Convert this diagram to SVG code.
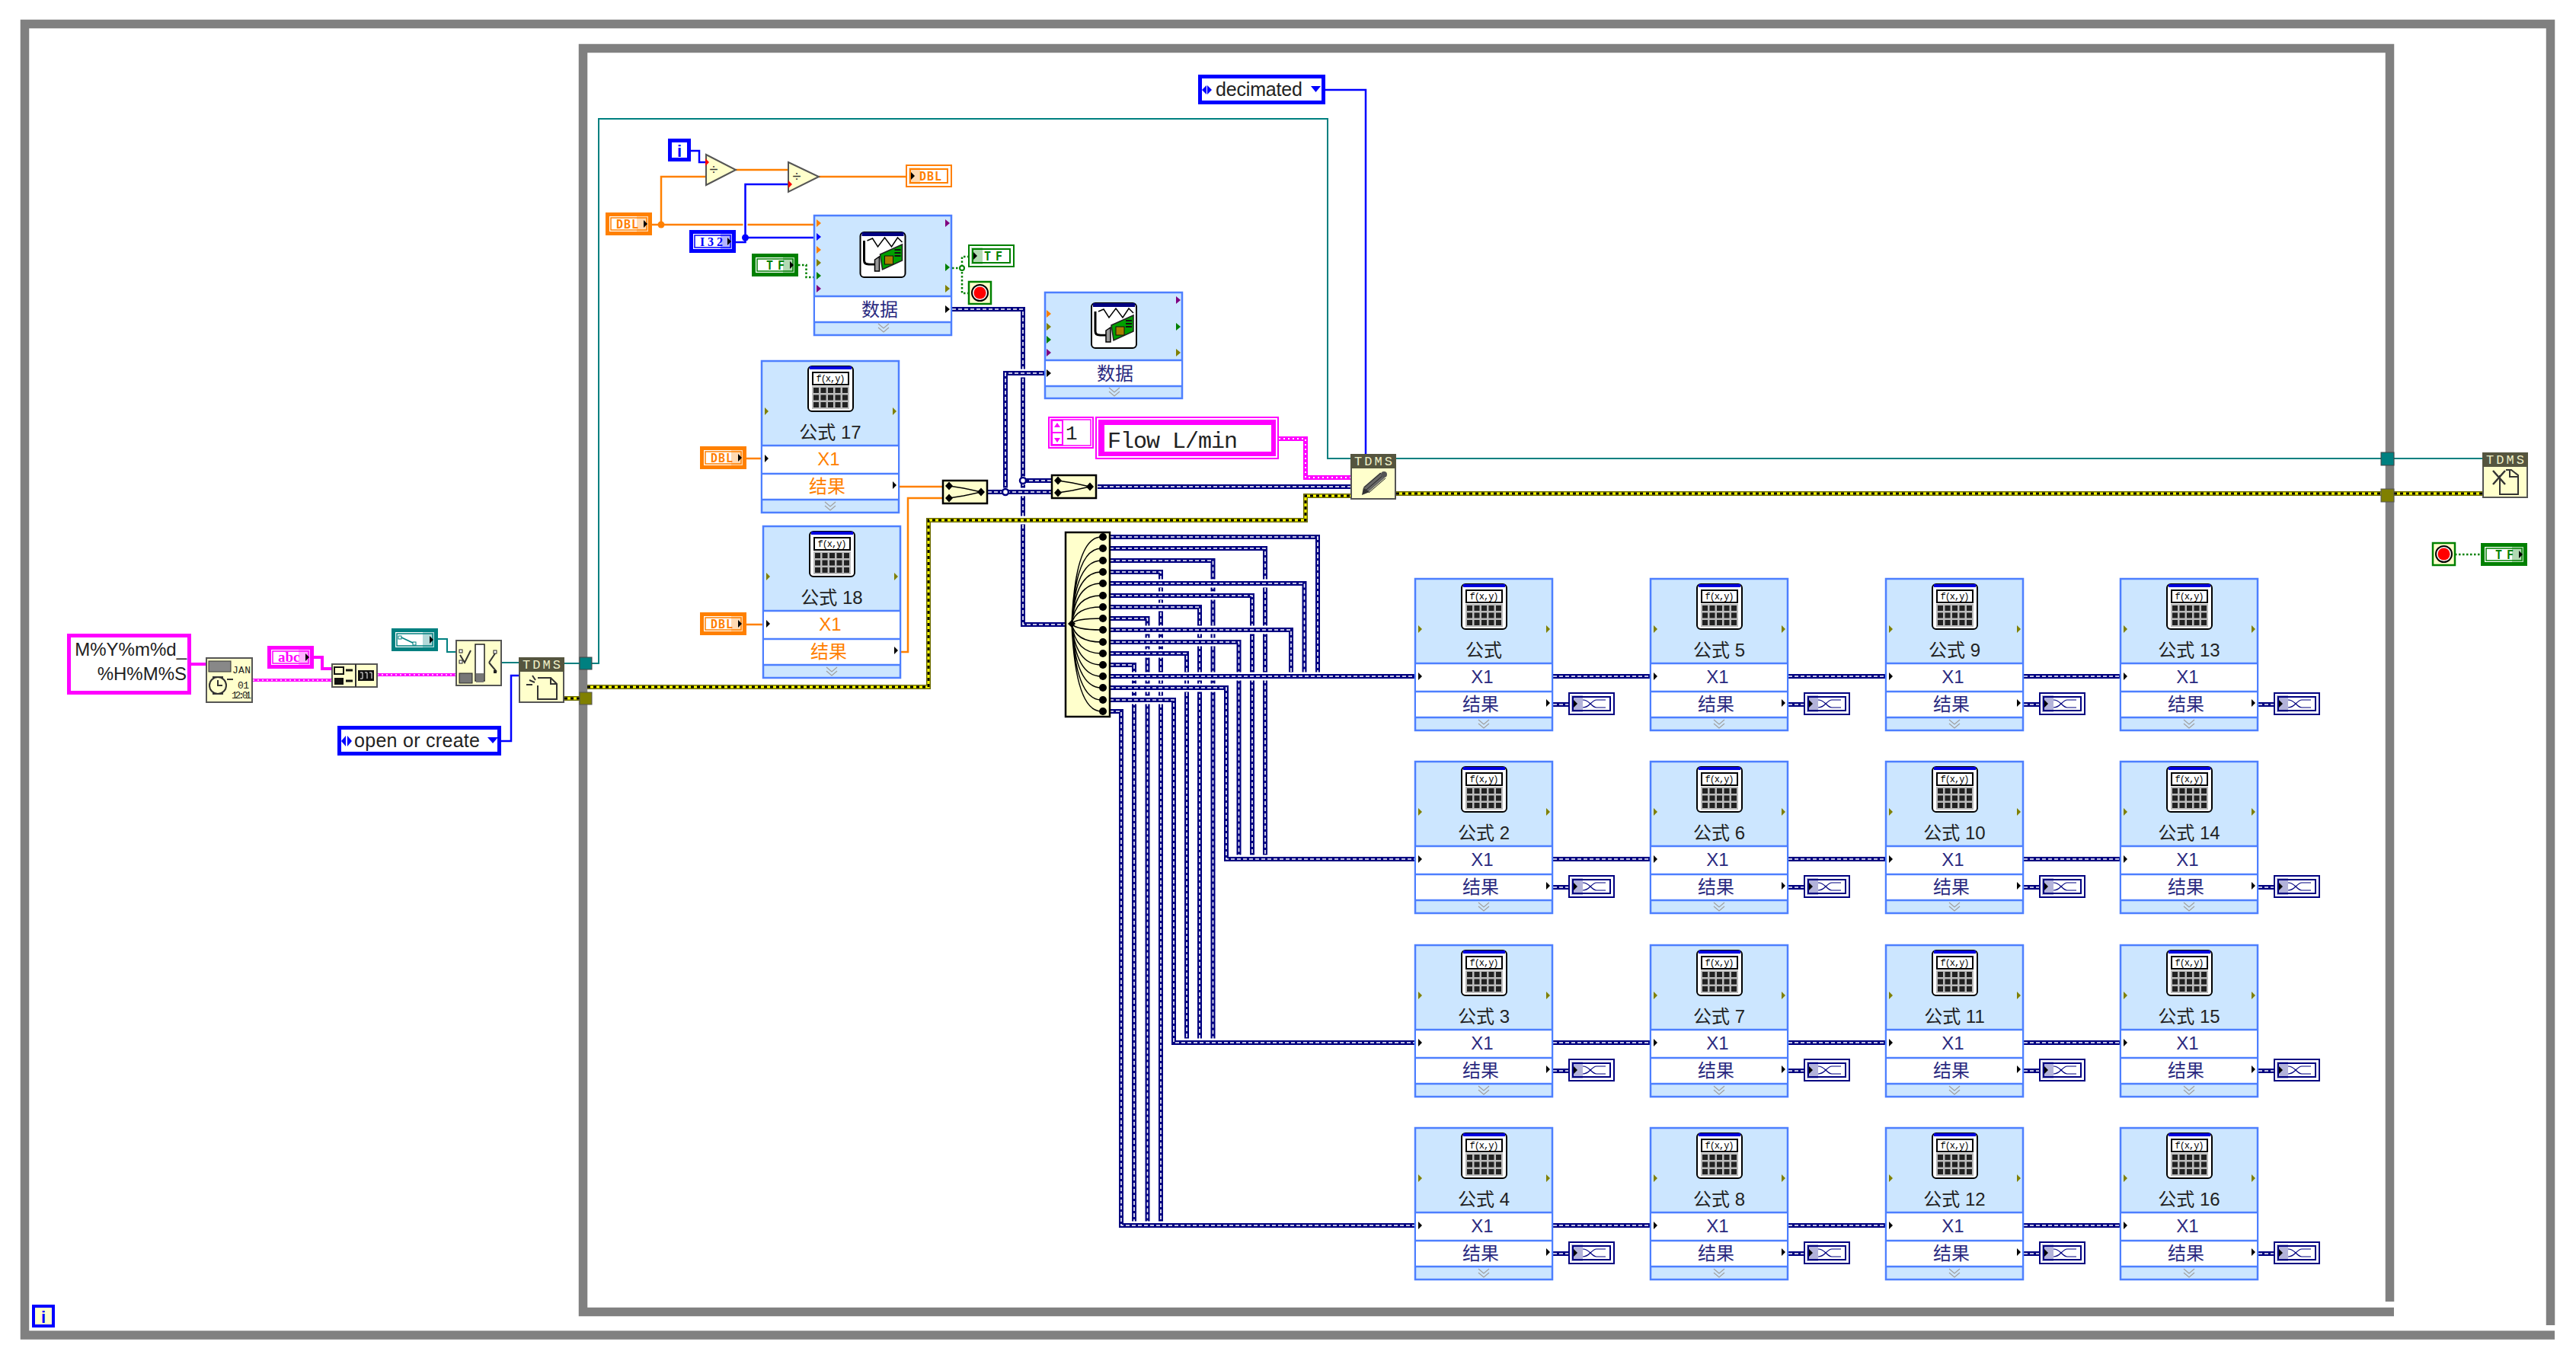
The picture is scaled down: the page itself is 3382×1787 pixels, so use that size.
<svg xmlns="http://www.w3.org/2000/svg" width="3382" height="1787" viewBox="0 0 3382 1787">
<style>
text{font-family:"Liberation Sans","Noto Sans CJK SC",sans-serif}
.fr{fill:none;stroke:#808080;stroke-width:11.5}
.n{fill:none;stroke:#000080;stroke-width:6}
.d{fill:none;stroke:#fff;stroke-width:1.6;stroke-dasharray:5 3}
.h{fill:none;stroke:#fff;stroke-width:11}
.o{fill:none;stroke:#ff8000;stroke-width:2.5}
.b{fill:none;stroke:#0000ff;stroke-width:2.5}
.t{fill:none;stroke:#008080;stroke-width:2}
.y1{fill:none;stroke:#6b6b00;stroke-width:6}
.y2{fill:none;stroke:#ff0;stroke-width:3}
.y3{fill:none;stroke:#000;stroke-width:3;stroke-dasharray:4 4}
.p1{fill:none;stroke:#ff00ff;stroke-width:4}
.p2{fill:none;stroke:#fff;stroke-width:1.5;stroke-dasharray:2 4}
.g{fill:none;stroke:#008000;stroke-width:2.5;stroke-dasharray:2.5 2.5}
.nd{fill:#ffffcc;stroke:#555;stroke-width:2}
.bk{fill:#ffffcc;stroke:#000;stroke-width:2.5}
.hd{fill:#55553f}
.hdt{fill:#f0f0c8;font-family:"Liberation Mono",monospace;font-size:17px}
.lab{font-size:24px;fill:#222;text-anchor:middle}
.x1{font-size:24px;fill:#2a2a80;text-anchor:middle}
.or{font-size:24px;fill:#ff8000;text-anchor:middle}
.fx{font-family:"Liberation Mono",monospace;font-size:12px;fill:#000;text-anchor:middle}
.ct{font-family:"DejaVu Sans Mono",monospace;font-weight:bold;font-size:15px}
.en{font-size:25px;fill:#222}
.dv{font-size:20px;fill:#333;text-anchor:middle}
.sm{font-family:"Liberation Mono",monospace;font-size:13px;fill:#222}
.ic{fill:none;stroke:#333;stroke-width:2}
</style>
<defs>
<g id="calc">
<rect x="1" y="1" width="59" height="59" rx="5" fill="#fff" stroke="#000" stroke-width="2"/>
<rect x="3" y="1" width="55" height="4" fill="#0000e0"/>
<rect x="7" y="9" width="47" height="16" fill="#fff" stroke="#000" stroke-width="2"/>
<text class="fx" x="30.5" y="21" textLength="38">f(x,y)</text>
<rect x="6" y="27" width="49" height="30" fill="#bbb"/>
<g fill="#222"><rect x="8" y="29" width="7" height="7"/><rect x="17.500" y="29" width="7" height="7"/><rect x="27" y="29" width="7" height="7"/><rect x="36.500" y="29" width="7" height="7"/><rect x="46" y="29" width="7" height="7"/><rect x="8" y="38.500" width="7" height="7"/><rect x="17.500" y="38.500" width="7" height="7"/><rect x="27" y="38.500" width="7" height="7"/><rect x="36.500" y="38.500" width="7" height="7"/><rect x="46" y="38.500" width="7" height="7"/><rect x="8" y="48" width="7" height="7"/><rect x="17.500" y="48" width="7" height="7"/><rect x="27" y="48" width="7" height="7"/><rect x="36.500" y="48" width="7" height="7"/><rect x="46" y="48" width="7" height="7"/></g>
</g>
<g id="daq">
<rect x="1" y="1" width="59" height="59" rx="5" fill="#fff" stroke="#000" stroke-width="2"/>
<rect x="3" y="1" width="55" height="5" fill="#000080"/>
<path d="M10 12L17 9L24 20L33 8L42 20L50 8L56 14" fill="none" stroke="#000" stroke-width="1.5"/>
<path d="M6 12V38Q6 43 12 43H20" fill="none" stroke="#000" stroke-width="3"/>
<path d="M9 12V36Q9 41 14 41H20" fill="none" stroke="#fff" stroke-width="1"/>
<path d="M20 37L26 33V52H20Z" fill="#999" stroke="#000" stroke-width="1.500"/>
<path d="M27 30L56 17V38L30 50Z" fill="#00a000" stroke="#222" stroke-width="1.500"/>
<rect x="33" y="32" width="11" height="11" fill="#a88000" stroke="#111"/>
<path d="M46 24h8M46 28h8M46 32h8" stroke="#111" stroke-width="2"/>
</g>
<g id="fn">
<rect x="1" y="1" width="180" height="199" fill="#cce6ff" stroke="#4d7fff" stroke-width="2.500"/>
<rect x="2" y="112" width="178" height="71" fill="#fff"/>
<path d="M1 112H181M1 149H181M1 183H181" stroke="#4d7fff" stroke-width="2.500"/>
<use href="#calc" x="61" y="7"/>
<polygon points="5,62 10,67 5,72" fill="#808000"/><polygon points="173,62 178,67 173,72" fill="#808000"/>
<polygon points="5,124 10,129 5,134" fill="#000"/><polygon points="173,159 178,164 173,169" fill="#000"/>
<path d="M84 186L91 192L98 186M84 191L91 197L98 191" fill="none" stroke="#a0a0a0" stroke-width="1.200"/>
</g>
<g id="ctl"><rect width="61" height="30" fill="currentColor"/><rect x="5" y="5" width="51" height="20" fill="#fff"/><rect x="7" y="7" width="47" height="16" fill="none" stroke="currentColor" stroke-width="1.500"/><rect x="41" y="4" width="15" height="22" fill="currentColor" opacity=".3"/><polygon points="50,10 55,15 50,20" fill="#000"/></g>
<g id="ind"><rect x="1" y="1" width="59" height="28" fill="#fff" stroke="currentColor" stroke-width="2"/><rect x="6" y="6" width="49" height="18" fill="none" stroke="currentColor" stroke-width="2"/><rect x="4" y="4" width="15" height="22" fill="currentColor" opacity=".3"/><polygon points="7,10 12,15 7,20" fill="#000"/></g>
<g id="wf"><use href="#ind" style="color:#000080"/><path d="M19 10Q24 10 29 15T37 20M19 20Q24 20 29 15T37 10H49M37 20H49" fill="none" stroke="#000080" stroke-width="1.200"/></g>
<g id="stp"><rect x="1" y="1" width="29" height="29" fill="#ffffcc" stroke="#008000" stroke-width="2.500"/><circle cx="15.500" cy="15.500" r="10.500" fill="#fff" stroke="#000" stroke-width="2"/><circle cx="15.500" cy="15.500" r="8" fill="#ff0000"/></g>
<g id="merge"><rect x="1" y="1" width="58" height="30" class="bk"/><path d="M9 8L28 11L51 16L28 21L9 24" fill="none" stroke="#000" stroke-width="1.500"/><path d="M9 2.500L14 8L9 13.500L4 8ZM9 18.500L14 24L9 29.500L4 24ZM51 10.500L56 16L51 21.500L46 16Z" fill="#000"/></g>
<g id="tdms"><rect x="1" y="1" width="58" height="58" class="nd"/><rect width="60" height="19" class="hd"/><text class="hdt" x="5" y="15" textLength="50">TDMS</text></g>
<path id="o0" d="M1457 705H1730V888"/>
<path id="o1" d="M1457 720H1661V1128"/>
<path id="o2" d="M1457 736H1592.500V1369"/>
<path id="o3" d="M1457 751H1524V1609"/>
<path id="o4" d="M1457 766H1712.500V888"/>
<path id="o5" d="M1457 782H1644V1128"/>
<path id="o6" d="M1457 797H1575V1369"/>
<path id="o7" d="M1457 812H1506.500V1609"/>
<path id="o8" d="M1457 827H1695V888"/>
<path id="o9" d="M1457 843H1626.500V1128"/>
<path id="o10" d="M1457 858H1558V1369"/>
<path id="o11" d="M1457 873H1489V1609"/>
<path id="o12" d="M1457 888H1857"/>
<path id="o13" d="M1457 903H1610V1128H1857"/>
<path id="o14" d="M1457 919H1541V1369H1857"/>
<path id="o15" d="M1457 934H1472V1609H1857"/>
<path id="m1" d="M1250 406H1343V820H1398"/>
<path id="m2" d="M1320 646V490H1371"/>
<path id="m3" d="M1297 646H1380"/>
<path id="m4" d="M1343 631H1380"/>
<path id="m5" d="M1441 639H1773"/>
<path id="rw" d="M2039 888H2166M2348 888H2475M2657 888H2783M2039 1128H2166M2348 1128H2475M2657 1128H2783M2039 1369H2166M2348 1369H2475M2657 1369H2783M2039 1609H2166M2348 1609H2475M2657 1609H2783M2039 925H2059M2348 925H2368M2657 925H2677M2965 925H2985M2039 1165H2059M2348 1165H2368M2657 1165H2677M2965 1165H2985M2039 1406H2059M2348 1406H2368M2657 1406H2677M2965 1406H2985M2039 1646H2059M2348 1646H2368M2657 1646H2677M2965 1646H2985"/>
<path id="yw" d="M771 902H1219V683H1714V651H1773M741 917H761M1833 648H3126M3143 648H3259"/>
</defs>

<rect width="3382" height="1787" fill="#fff"/>
<g id="frames">
<path class="fr" d="M3348.500 1740V31.500H32.500V1753H3354"/>
<path class="fr" d="M3137.500 1709V63.500H765.500V1722.500H3143"/>
</g>

<g id="connectors">
<path class="o" d="M856 295H1068M868 295V232H926M966 223H1035M1075 232H1189M979 602H999M979 820H1001M1181 639H1237M1183 856H1192V654H1237"/>
<path class="h" style="stroke-width:6" d="M978.500 280V310"/>
<path class="b" d="M907 198H918V213H926M966 318H978.500V242H1035M978.500 312H1068M658 973H671V887H681M1740 118H1793V596"/>
<path class="g" d="M1048 348H1058.500V364H1068M1250 352H1263V337H1271M1263 352V385H1271M3223 728H3257"/>
<path class="t" d="M741 871H761M777 871H786V156H1743V602H1773M1833 602H3126M3143 602H3259M659 870H681"/>
<path class="t" d="M575 839H587V856H598"/>
<path class="p1" d="M251 872H270M332 893H435M411 863H423V878H435M495 886H598"/>
<path class="p2" d="M332 893H435M495 886H598"/>
<path class="p1" style="stroke-width:6" d="M1679 576H1714V627H1773"/>
<path class="p2" style="stroke-width:2" d="M1679 576H1714V627H1773"/>
<use href="#m1" class="n"/><use href="#m1" class="d"/>
<use href="#m2" class="h"/><use href="#m2" class="n"/><use href="#m2" class="d"/>
<use href="#m3" class="h"/><use href="#m3" class="n"/><use href="#m3" class="d"/>
<use href="#m4" class="h"/><use href="#m4" class="n"/><use href="#m4" class="d"/>
<use href="#m5" class="n"/><use href="#m5" class="d"/>
<path class="h" d="M1200 683H1714"/>
<use href="#yw" class="y1"/><use href="#yw" class="y2"/><use href="#yw" class="y3"/>
<use href="#o0" class="h"/><use href="#o0" class="n"/><use href="#o0" class="d"/>
<use href="#o1" class="h"/><use href="#o1" class="n"/><use href="#o1" class="d"/>
<use href="#o2" class="h"/><use href="#o2" class="n"/><use href="#o2" class="d"/>
<use href="#o3" class="h"/><use href="#o3" class="n"/><use href="#o3" class="d"/>
<use href="#o4" class="h"/><use href="#o4" class="n"/><use href="#o4" class="d"/>
<use href="#o5" class="h"/><use href="#o5" class="n"/><use href="#o5" class="d"/>
<use href="#o6" class="h"/><use href="#o6" class="n"/><use href="#o6" class="d"/>
<use href="#o7" class="h"/><use href="#o7" class="n"/><use href="#o7" class="d"/>
<use href="#o8" class="h"/><use href="#o8" class="n"/><use href="#o8" class="d"/>
<use href="#o9" class="h"/><use href="#o9" class="n"/><use href="#o9" class="d"/>
<use href="#o10" class="h"/><use href="#o10" class="n"/><use href="#o10" class="d"/>
<use href="#o11" class="h"/><use href="#o11" class="n"/><use href="#o11" class="d"/>
<use href="#o12" class="h"/><use href="#o12" class="n"/><use href="#o12" class="d"/>
<use href="#o13" class="h"/><use href="#o13" class="n"/><use href="#o13" class="d"/>
<use href="#o14" class="h"/><use href="#o14" class="n"/><use href="#o14" class="d"/>
<use href="#o15" class="h"/><use href="#o15" class="n"/><use href="#o15" class="d"/>
<use href="#rw" class="n"/><use href="#rw" class="d"/>
<circle cx="868" cy="295" r="4.500" fill="#ff8000"/>
<circle cx="978.500" cy="312" r="4.500" fill="#0000ff"/>
<circle cx="1263" cy="352" r="3" fill="#fff" stroke="#008000" stroke-width="2"/>
<circle cx="1320" cy="646" r="4" fill="#fff" stroke="#000080" stroke-width="2.500"/>
<circle cx="1343" cy="631" r="4" fill="#fff" stroke="#000080" stroke-width="2.500"/>
</g>

<g id="format-string"><rect x="90.500" y="834.500" width="158" height="75" fill="#fff" stroke="#ff00ff" stroke-width="5"/><text x="245" y="861" text-anchor="end" font-size="24" fill="#222">M%Y%m%d_</text><text x="245" y="893" text-anchor="end" font-size="24" fill="#222">%H%M%S</text></g>
<g id="format-date" transform="translate(270,863)"><rect x="1" y="1" width="60" height="58" class="nd"/><rect x="4" y="5" width="29" height="14" fill="#888" stroke="#333"/><text class="sm" x="35" y="21" textLength="24">JAN</text><text class="sm" x="42" y="41" textLength="15">01</text><text class="sm" x="34" y="54" textLength="26">12:01</text><circle cx="16" cy="37" r="11" fill="none" stroke="#333" stroke-width="2"/><path d="M16 30V37H22M9 26H23M9 48H23M28 29H36" class="ic"/></g>
<g id="abc" transform="translate(351,848)"><use href="#ctl" style="color:#ff00ff"/><text x="14" y="21" font-size="19" font-weight="bold" fill="#ff00ff" style="font-family:'Liberation Serif',serif">abc</text></g>
<g id="concat" transform="translate(435,871)"><rect x="1" y="1" width="59" height="30" class="nd"/><path d="M32 1V31" stroke="#333" stroke-width="2"/><rect x="35" y="9" width="21" height="14" fill="#111"/><path d="M38 12h3v8h-3M44 12h3v8M50 12h3v8" fill="none" stroke="#fff"/><rect x="4" y="5" width="12" height="9" fill="none" stroke="#111" stroke-width="2"/><rect x="4" y="19" width="12" height="9" fill="#111"/><path d="M19 9H28M19 23H28" stroke="#111" stroke-width="3"/></g>
<g id="path-const" transform="translate(514,825)"><use href="#ctl" style="color:#008080"/><path d="M11 11L30 20" stroke="#008080" stroke-width="1.500"/><rect x="9" y="10" width="4" height="4" fill="#fff" stroke="#008080"/><rect x="28" y="18" width="4" height="4" fill="#fff" stroke="#008080"/></g>
<g id="build-path" transform="translate(598,840)"><rect x="1" y="1" width="59" height="59" class="nd"/><rect x="26" y="6" width="12" height="48" fill="#fff" stroke="#222" stroke-width="1.500"/><rect x="5" y="44" width="17" height="13" fill="#777" stroke="#222"/><rect x="27" y="44" width="10" height="12" fill="#777"/><path d="M6 20L12 30L20 14M44 30L52 18M44 30L54 42" class="ic"/><rect x="5" y="13" width="4" height="4" fill="#fff" stroke="#222"/><rect x="5" y="27" width="4" height="4" fill="#fff" stroke="#222"/><rect x="50" y="14" width="4" height="4" fill="#fff" stroke="#222"/><rect x="50" y="40" width="4" height="4" fill="#222"/></g>
<g id="tdms-open" transform="translate(681,863)"><use href="#tdms"/><path d="M25 27H42L50 35V55H25V37" class="ic"/><path d="M42 27V35H50" class="ic"/><path d="M14 30L21 33M18 24L22 30M10 36L18 36" class="ic"/></g>
<g id="enum-open"><rect x="445.500" y="955.500" width="210" height="34" fill="#fff" stroke="#0000ff" stroke-width="5"/><polygon points="448,973 454,966 454,980" fill="#0000ff"/><polygon points="462,973 456,966 456,980" fill="#0000ff"/><polygon points="640,968 654,968 647,976" fill="#0000ff"/><text class="en" x="465" y="981" textLength="165">open or create</text></g>
<rect id="tunnel-a" x="761" y="863" width="16" height="16" fill="#008080" stroke="#444"/>
<rect id="tunnel-b" x="761" y="909" width="16" height="16" fill="#808000" stroke="#555"/>

<g id="loop-i" transform="translate(877,182)"><rect x="2.500" y="2.500" width="25" height="25" fill="#fff" stroke="#0000ff" stroke-width="5"/><text x="15" y="24" text-anchor="middle" font-size="22" font-weight="bold" fill="#0000ff">i</text></g>
<g id="div1"><polygon points="927,203 966,223 927,243" class="nd"/><text class="dv" x="937" y="229">÷</text><polygon points="926,208 931,213 926,218" fill="#ff0000"/></g>
<g id="div2"><polygon points="1035,213 1075,232 1035,252" class="nd"/><text class="dv" x="1046" y="238">÷</text><polygon points="1035,237 1040,242 1035,247" fill="#ff0000"/></g>
<g id="dbl-out" transform="translate(1189,216)"><use href="#ind" style="color:#ff8000"/><text class="ct" x="18" y="21" fill="#ff8000" textLength="29">DBL</text></g>
<g id="dbl-in" transform="translate(795,279)"><use href="#ctl" style="color:#ff8000"/><text class="ct" x="14" y="21" fill="#ff8000" textLength="29">DBL</text></g>
<g id="i32" transform="translate(905,302)"><use href="#ctl" style="color:#0000ff"/><text x="14" y="21" font-size="16" font-weight="bold" fill="#0000ff" textLength="30" style="font-family:'Liberation Serif',serif">I32</text></g>
<g id="tf-in" transform="translate(987,333)"><use href="#ctl" style="color:#008000"/><text class="ct" x="19" y="21" fill="#008000" textLength="24">TF</text></g>
<g id="tf-out" transform="translate(1271,321)"><use href="#ind" style="color:#008000"/><text class="ct" x="21" y="21" fill="#008000" textLength="24">TF</text></g>
<use id="stop-a" href="#stp" x="1271" y="369"/>
<g id="daq1" transform="translate(1068,282)"><rect x="1" y="1" width="180" height="157" fill="#cce6ff" stroke="#4d7fff" stroke-width="2.500"/><rect x="2" y="107" width="178" height="34" fill="#fff"/><path d="M1 107H181M1 141H181" stroke="#4d7fff" stroke-width="2.500"/><use href="#daq" x="60.500" y="22"/>
<polygon points="4,6 10,11 4,16" fill="#ff8000"/><polygon points="4,24 10,29 4,34" fill="#0000ff"/><polygon points="4,41 10,46 4,51" fill="#ff8000"/><polygon points="4,58 10,63 4,68" fill="#808000"/><polygon points="4,75 10,80 4,85" fill="#008000"/><polygon points="4,92 10,97 4,102" fill="#800080"/>
<polygon points="173,6 179,11 173,16" fill="#800080"/><polygon points="173,64 179,69 173,74" fill="#008000"/><polygon points="173,92 179,97 173,102" fill="#808000"/><polygon points="173,119 179,124 173,129" fill="#000"/>
<path d="M85 143L92 149L99 143M85 148L92 154L99 148" fill="none" stroke="#a0a0a0" stroke-width="1.200"/><text class="x1" x="87" y="133">数据</text></g>
<g id="daq2" transform="translate(1371,383)"><rect x="1" y="1" width="180" height="139" fill="#cce6ff" stroke="#4d7fff" stroke-width="2.500"/><rect x="2" y="90" width="178" height="34" fill="#fff"/><path d="M1 90H181M1 124H181" stroke="#4d7fff" stroke-width="2.500"/><use href="#daq" x="61" y="14"/>
<polygon points="3,24 9,29 3,34" fill="#ff8000"/><polygon points="3,41 9,46 3,51" fill="#808000"/><polygon points="3,58 9,63 3,68" fill="#008000"/><polygon points="3,75 9,80 3,85" fill="#800080"/>
<polygon points="173,6 179,11 173,16" fill="#800080"/><polygon points="173,41 179,46 173,51" fill="#008000"/><polygon points="173,75 179,80 173,85" fill="#808000"/><polygon points="3,102 9,107 3,112" fill="#000"/>
<path d="M85 126L92 132L99 126M85 131L92 137L99 131" fill="none" stroke="#a0a0a0" stroke-width="1.200"/><text class="x1" x="93" y="116">数据</text></g>

<g id="dbl-17" transform="translate(919,586)"><use href="#ctl" style="color:#ff8000"/><text class="ct" x="14" y="21" fill="#ff8000" textLength="29">DBL</text></g>
<g id="dbl-18" transform="translate(919,804)"><use href="#ctl" style="color:#ff8000"/><text class="ct" x="14" y="21" fill="#ff8000" textLength="29">DBL</text></g>
<g id="formula17" transform="translate(999,473)"><use href="#fn"/><text class="lab" x="91" y="103">公式 17</text><text class="or" x="89" y="138">X1</text><text class="or" x="87" y="174">结果</text></g>
<g id="formula18" transform="translate(1001,690)"><use href="#fn"/><text class="lab" x="91" y="103">公式 18</text><text class="or" x="89" y="138">X1</text><text class="or" x="87" y="174">结果</text></g>
<use id="merge1" href="#merge" x="1237" y="630"/>
<use id="merge2" href="#merge" x="1380" y="623"/>

<g id="index-const" transform="translate(1376,547)"><rect x="1" y="1" width="58" height="40" fill="#fff" stroke="#ff00ff" stroke-width="2"/><rect x="4" y="4" width="52" height="34" fill="none" stroke="#ff00ff" stroke-width="1.500"/><rect x="4" y="4" width="16" height="34" fill="#ff00ff"/><rect x="6" y="6" width="12" height="30" fill="#fff"/><polygon points="12,8 16,14 8,14" fill="#ff00ff"/><polygon points="12,34 16,28 8,28" fill="#ff00ff"/><path d="M6 21H18" stroke="#ff00ff" stroke-width="2"/><text x="23" y="30" font-size="26" fill="#222" style="font-family:'Liberation Mono',monospace">1</text></g>
<g id="flow-const"><rect x="1439" y="548" width="239" height="54" fill="#fff" stroke="#ff00ff" stroke-width="2"/><rect x="1442" y="551" width="233" height="48" fill="#ff00ff"/><rect x="1450" y="558" width="219" height="35" fill="#fff"/><text x="1454" y="588" font-size="30" fill="#222" textLength="171" style="font-family:'Liberation Mono',monospace">Flow L/min</text></g>
<g id="enum-dec"><rect x="1575.500" y="100.500" width="162" height="34" fill="#fff" stroke="#0000ff" stroke-width="5"/><polygon points="1578,118 1584,112 1584,124" fill="#0000ff"/><polygon points="1591,118 1585,112 1585,124" fill="#0000ff"/><polygon points="1721,113 1734,113 1727.500,121" fill="#0000ff"/><text class="en" x="1596" y="126" textLength="114">decimated</text></g>
<g id="tdms-write" transform="translate(1773,596)"><use href="#tdms"/><path d="M20 47L42 28" stroke="#666" stroke-width="9"/><path d="M15 54L17 44L25 50Z" fill="#333"/><path d="M18 44L40 25M21 47L43 28M24 51L46 32" stroke="#222" stroke-width="1"/><circle cx="44" cy="27" r="4" fill="#555"/></g>

<g id="fan">
<rect x="1399" y="699" width="58" height="242" class="bk"/>
<path d="M1407 819Q1412 705 1446 705M1407 819Q1412 720 1446 720M1407 819Q1412 736 1446 736M1407 819Q1412 751 1446 751M1407 819Q1412 766 1446 766M1407 819Q1412 782 1446 782M1407 819Q1412 797 1446 797M1407 819Q1412 812 1446 812M1407 819Q1412 827 1446 827M1407 819Q1412 843 1446 843M1407 819Q1412 858 1446 858M1407 819Q1412 873 1446 873M1407 819Q1412 888 1446 888M1407 819Q1412 903 1446 903M1407 819Q1412 919 1446 919M1407 819Q1412 934 1446 934" fill="none" stroke="#000" stroke-width="1.500"/>
<path d="M1407 814L1412 819L1407 824L1402 819Z" fill="#000"/>
<g fill="#000"><circle cx="1448" cy="705" r="5"/><circle cx="1448" cy="720" r="5"/><circle cx="1448" cy="736" r="5"/><circle cx="1448" cy="751" r="5"/><circle cx="1448" cy="766" r="5"/><circle cx="1448" cy="782" r="5"/><circle cx="1448" cy="797" r="5"/><circle cx="1448" cy="812" r="5"/><circle cx="1448" cy="827" r="5"/><circle cx="1448" cy="843" r="5"/><circle cx="1448" cy="858" r="5"/><circle cx="1448" cy="873" r="5"/><circle cx="1448" cy="888" r="5"/><circle cx="1448" cy="903" r="5"/><circle cx="1448" cy="919" r="5"/><circle cx="1448" cy="934" r="5"/></g>
</g>

<g id="f1" transform="translate(1857,759)"><use href="#fn"/><text class="lab" x="91" y="103">公式</text><text class="x1" x="89" y="138">X1</text><text class="x1" x="87" y="174">结果</text><use href="#wf" x="202" y="150"/></g>
<g id="f2" transform="translate(1857,999)"><use href="#fn"/><text class="lab" x="91" y="103">公式 2</text><text class="x1" x="89" y="138">X1</text><text class="x1" x="87" y="174">结果</text><use href="#wf" x="202" y="150"/></g>
<g id="f3" transform="translate(1857,1240)"><use href="#fn"/><text class="lab" x="91" y="103">公式 3</text><text class="x1" x="89" y="138">X1</text><text class="x1" x="87" y="174">结果</text><use href="#wf" x="202" y="150"/></g>
<g id="f4" transform="translate(1857,1480)"><use href="#fn"/><text class="lab" x="91" y="103">公式 4</text><text class="x1" x="89" y="138">X1</text><text class="x1" x="87" y="174">结果</text><use href="#wf" x="202" y="150"/></g>
<g id="f5" transform="translate(2166,759)"><use href="#fn"/><text class="lab" x="91" y="103">公式 5</text><text class="x1" x="89" y="138">X1</text><text class="x1" x="87" y="174">结果</text><use href="#wf" x="202" y="150"/></g>
<g id="f6" transform="translate(2166,999)"><use href="#fn"/><text class="lab" x="91" y="103">公式 6</text><text class="x1" x="89" y="138">X1</text><text class="x1" x="87" y="174">结果</text><use href="#wf" x="202" y="150"/></g>
<g id="f7" transform="translate(2166,1240)"><use href="#fn"/><text class="lab" x="91" y="103">公式 7</text><text class="x1" x="89" y="138">X1</text><text class="x1" x="87" y="174">结果</text><use href="#wf" x="202" y="150"/></g>
<g id="f8" transform="translate(2166,1480)"><use href="#fn"/><text class="lab" x="91" y="103">公式 8</text><text class="x1" x="89" y="138">X1</text><text class="x1" x="87" y="174">结果</text><use href="#wf" x="202" y="150"/></g>
<g id="f9" transform="translate(2475,759)"><use href="#fn"/><text class="lab" x="91" y="103">公式 9</text><text class="x1" x="89" y="138">X1</text><text class="x1" x="87" y="174">结果</text><use href="#wf" x="202" y="150"/></g>
<g id="f10" transform="translate(2475,999)"><use href="#fn"/><text class="lab" x="91" y="103">公式 10</text><text class="x1" x="89" y="138">X1</text><text class="x1" x="87" y="174">结果</text><use href="#wf" x="202" y="150"/></g>
<g id="f11" transform="translate(2475,1240)"><use href="#fn"/><text class="lab" x="91" y="103">公式 11</text><text class="x1" x="89" y="138">X1</text><text class="x1" x="87" y="174">结果</text><use href="#wf" x="202" y="150"/></g>
<g id="f12" transform="translate(2475,1480)"><use href="#fn"/><text class="lab" x="91" y="103">公式 12</text><text class="x1" x="89" y="138">X1</text><text class="x1" x="87" y="174">结果</text><use href="#wf" x="202" y="150"/></g>
<g id="f13" transform="translate(2783,759)"><use href="#fn"/><text class="lab" x="91" y="103">公式 13</text><text class="x1" x="89" y="138">X1</text><text class="x1" x="87" y="174">结果</text><use href="#wf" x="202" y="150"/></g>
<g id="f14" transform="translate(2783,999)"><use href="#fn"/><text class="lab" x="91" y="103">公式 14</text><text class="x1" x="89" y="138">X1</text><text class="x1" x="87" y="174">结果</text><use href="#wf" x="202" y="150"/></g>
<g id="f15" transform="translate(2783,1240)"><use href="#fn"/><text class="lab" x="91" y="103">公式 15</text><text class="x1" x="89" y="138">X1</text><text class="x1" x="87" y="174">结果</text><use href="#wf" x="202" y="150"/></g>
<g id="f16" transform="translate(2783,1480)"><use href="#fn"/><text class="lab" x="91" y="103">公式 16</text><text class="x1" x="89" y="138">X1</text><text class="x1" x="87" y="174">结果</text><use href="#wf" x="202" y="150"/></g>

<rect id="tunnel-c" x="3126" y="594" width="17" height="17" fill="#008080" stroke="#444"/>
<rect id="tunnel-d" x="3126" y="642" width="17" height="17" fill="#808000" stroke="#555"/>
<g id="tdms-close" transform="translate(3259,594)"><use href="#tdms"/><path d="M23 30V55H47V30L38 23H31" class="ic"/><path d="M36 23V32H47" class="ic"/><path d="M14 24L30 42M30 24L14 42" stroke="#333" stroke-width="2.500"/></g>
<use id="stop-b" href="#stp" x="3193" y="712"/>
<g id="tf-stop" transform="translate(3257,713)"><use href="#ctl" style="color:#008000"/><text class="ct" x="19" y="21" fill="#008000" textLength="24">TF</text></g>
<g id="loop-i-outer" transform="translate(42,1713)"><rect x="2" y="2" width="26" height="26" fill="#ffffcc" stroke="#0000ff" stroke-width="4"/><text x="15" y="24" text-anchor="middle" font-size="22" font-weight="bold" fill="#0000ff">i</text></g>
</svg>
